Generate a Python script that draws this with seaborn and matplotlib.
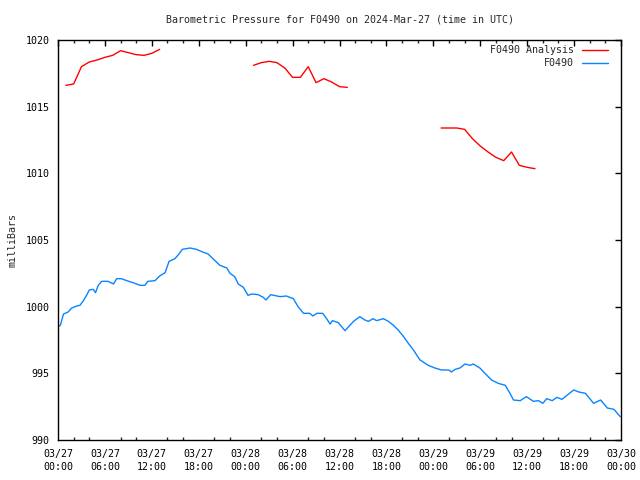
import matplotlib
matplotlib.use("Agg")
import matplotlib.pyplot as plt
import seaborn as sns
import pandas as pd
import numpy as np

# ---- data (hours since 2024-03-27 00:00 UTC) ----
obs_hours = [0.0, 0.3, 0.7, 1.3, 1.75, 2.4, 2.8, 3.2, 3.7, 4.0, 4.5, 4.8, 5.15, 5.6, 6.4,
             7.1, 7.5, 8.1, 8.8, 9.6, 10.5, 11.1, 11.5, 12.4, 13.0, 13.7, 14.2, 14.95, 15.4,
             15.9, 16.9, 17.7, 18.5, 19.2, 19.9, 20.7, 21.6, 22.0, 22.6, 23.05, 23.7, 24.3,
             24.8, 25.6, 26.25, 26.6, 27.2, 28.4, 29.2, 30.1, 30.7, 31.4, 32.2, 32.6, 33.1,
             33.85, 34.35, 34.8, 35.1, 35.85, 36.7, 37.8, 38.6, 39.25, 39.7, 40.3, 40.75,
             41.6, 42.25, 42.9, 43.5, 44.2, 44.8, 45.45, 46.3, 47.35, 48.2, 49.05, 50.0,
             50.3, 50.8, 51.4, 52.05, 52.7, 53.1, 53.95, 54.6, 55.45, 56.3, 57.2, 57.8,
             58.25, 59.1, 59.9, 60.8, 61.45, 62.0, 62.5, 63.2, 63.8, 64.45, 65.3, 65.95,
             66.6, 67.45, 68.5, 69.4, 70.25, 71.1, 71.9]
obs_mb = [998.5, 998.6, 999.45, 999.6, 999.9, 1000.05, 1000.1, 1000.4, 1000.9, 1001.25,
          1001.3, 1001.05, 1001.6, 1001.9, 1001.9, 1001.7, 1002.1, 1002.1, 1001.95, 1001.8,
          1001.6, 1001.6, 1001.9, 1001.95, 1002.3, 1002.55, 1003.4, 1003.6, 1003.9, 1004.3,
          1004.4, 1004.3, 1004.1, 1003.95, 1003.55, 1003.1, 1002.9, 1002.5, 1002.25, 1001.7,
          1001.45, 1000.85, 1000.95, 1000.9, 1000.7, 1000.5, 1000.9, 1000.75, 1000.8,
          1000.6, 1000.0, 999.5, 999.5, 999.3, 999.5, 999.5, 999.1, 998.7, 998.95, 998.8,
          998.2, 998.9, 999.25, 999.0, 998.9, 999.1, 998.95, 999.1, 998.9, 998.6, 998.25,
          997.75, 997.25, 996.75, 996.0, 995.6, 995.4, 995.25, 995.25, 995.1, 995.3, 995.4,
          995.7, 995.6, 995.7, 995.4, 995.0, 994.5, 994.25, 994.1, 993.5, 993.0, 992.95,
          993.25, 992.9, 992.95, 992.75, 993.1, 992.95, 993.2, 993.05, 993.45, 993.75,
          993.6, 993.5, 992.75, 993.0, 992.4, 992.3, 991.75]

ana_seg1_hours = [1, 2, 3, 4, 5, 6, 7, 8, 9, 10, 11, 12, 13]
ana_seg1_mb = [1016.6, 1016.7, 1018.0, 1018.35, 1018.5, 1018.7, 1018.85, 1019.2, 1019.05,
               1018.9, 1018.85, 1019.0, 1019.3]
ana_seg2_hours = [25, 26, 27, 28, 29, 30, 31, 32, 33, 34, 35, 36, 37]
ana_seg2_mb = [1018.1, 1018.3, 1018.4, 1018.3, 1017.9, 1017.2, 1017.2, 1018.0, 1016.8,
               1017.1, 1016.85, 1016.5, 1016.45]
ana_seg3_hours = [49, 50, 51, 52, 53, 54, 55, 56, 57, 58, 59, 60, 61]
ana_seg3_mb = [1013.4, 1013.4, 1013.4, 1013.3, 1012.6, 1012.05, 1011.6, 1011.2, 1010.95,
               1011.6, 1010.6, 1010.45, 1010.35]

xtick_hours = [0, 6, 12, 18, 24, 30, 36, 42, 48, 54, 60, 66, 72]
xtick_labels = ["03/27\n00:00", "03/27\n06:00", "03/27\n12:00", "03/27\n18:00",
                "03/28\n00:00", "03/28\n06:00", "03/28\n12:00", "03/28\n18:00",
                "03/29\n00:00", "03/29\n06:00", "03/29\n12:00", "03/29\n18:00",
                "03/30\n00:00"]
ytick_values = [990, 995, 1000, 1005, 1010, 1015, 1020]

title = "Barometric Pressure for F0490 on 2024-Mar-27 (time in UTC)"
ylabel = "milliBars"
ana_label = "F0490 Analysis"
obs_label = "F0490"

RED = "#ff0000"
BLUE = "#0a84ff"

sns.set_style("white")
plt.rcParams['font.family'] = ['DejaVu Sans Mono', 'DejaVu Sans']
plt.rcParams['font.size'] = 7.2

fig = plt.figure(figsize=(6.4, 4.8), dpi=100)
ax = fig.add_axes([58 / 640, 1 - 440 / 480, (621 - 58) / 640, 400 / 480])

segs = [(ana_seg1_hours, ana_seg1_mb), (ana_seg2_hours, ana_seg2_mb),
        (ana_seg3_hours, ana_seg3_mb)]
for i, (h, v) in enumerate(segs):
    sns.lineplot(x=h, y=v, ax=ax, color=RED, linewidth=1.0, sort=False,
                 label=ana_label if i == 0 else None, legend=False)
sns.lineplot(x=obs_hours, y=obs_mb, ax=ax, color=BLUE, linewidth=1.0, sort=False,
             label=obs_label, legend=False)

ax.set_xlim(0, 72)
ax.set_ylim(990, 1020)
ax.set_xticks(xtick_hours)
ax.set_xticklabels(xtick_labels, linespacing=1.35)
ax.set_xticks(np.arange(0, 73, 2), minor=True)
ax.set_yticks(ytick_values)
ax.set_yticklabels([str(v) for v in ytick_values])
ax.tick_params(axis='both', which='major', direction='in', length=4, width=1,
               top=True, right=True, colors='black', labelsize=7.2)
ax.tick_params(axis='x', which='major', pad=6.5)
ax.tick_params(axis='y', which='major', pad=6)
ax.tick_params(axis='x', which='minor', direction='in', length=2, width=1,
               top=True, bottom=True)
for s in ax.spines.values():
    s.set_color('black')
    s.set_linewidth(1.0)
    s.set_visible(True)

ax.set_xlabel("")
ax.set_ylabel(ylabel, fontsize=7.2, labelpad=6)
fig.text(339.5 / 640, 1 - 20 / 480, title, ha='center', va='center', fontsize=7.2)

leg = ax.legend(loc='upper right', bbox_to_anchor=(608 / 640, 1 - 45 / 480),
                bbox_transform=fig.transFigure, frameon=False, markerfirst=False,
                fontsize=7.2, handlelength=2.6, handletextpad=0.8, borderaxespad=0,
                labelspacing=0.3, borderpad=0)
for t in leg.get_texts():
    t.set_ha('right')
leg._legend_box.align = "right"

fig.savefig("out.png", dpi=100)
